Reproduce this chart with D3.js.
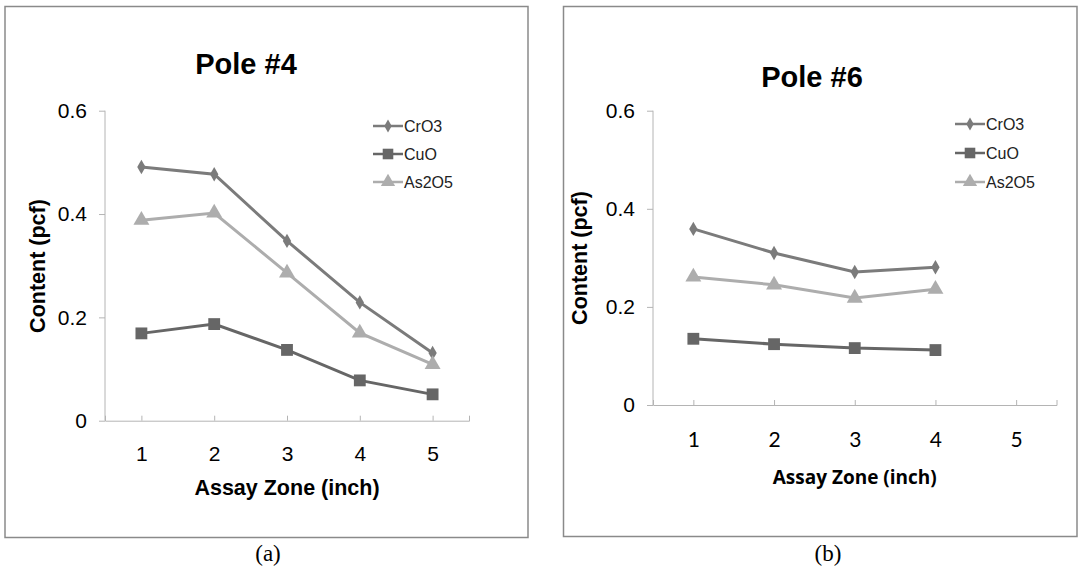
<!DOCTYPE html>
<html>
<head>
<meta charset="utf-8">
<script src="https://cdn.jsdelivr.net/npm/d3@7"></script>
<style>
  body { margin: 0; background: #fff; }
  svg { display: block; }
  .axis path, .axis line { stroke: #b4b4b4; stroke-width: 1px; }
</style>
</head>
<body>
<div id="chart"></div>
<script>
// data
const zones = ["1", "2", "3", "4", "5"];
const seriesNames = ["CrO3", "CuO", "As2O5"];
const yTicks = [0, 0.2, 0.4, 0.6];

const pole4CrO3 = [0.491, 0.477, 0.348, 0.229, 0.131];
const pole4CuO = [0.169, 0.187, 0.137, 0.078, 0.051];
const pole4As2O5 = [0.388, 0.402, 0.286, 0.170, 0.109];

const pole6CrO3 = [0.359, 0.310, 0.271, 0.281];
const pole6CuO = [0.135, 0.124, 0.116, 0.112];
const pole6As2O5 = [0.261, 0.245, 0.218, 0.236];

const colors = {CrO3: "#7b7b7b", CuO: "#666666", As2O5: "#adadad"};

const svg = d3.select("#chart").append("svg")
    .attr("width", 1078)
    .attr("height", 572);

function drawPanel(p) {
    const g = svg.append("g");

    // frame
    g.append("rect")
        .attr("x", p.frame[0]).attr("y", p.frame[1])
        .attr("width", p.frame[2] - p.frame[0]).attr("height", p.frame[3] - p.frame[1])
        .attr("fill", "none").attr("stroke", "#8a8a8a").attr("stroke-width", 1.5);

    const x = d3.scalePoint().domain(zones).range([p.left, p.right]).padding(0.5);
    const y = d3.scaleLinear().domain([0, 0.6]).range([p.bottom, p.top]);

    // axes
    const xAxis = g.append("g").attr("class", "axis")
        .attr("transform", `translate(0,${p.bottom})`)
        .call(d3.axisBottom(x).tickSizeInner(-5).tickSizeOuter(-5).tickPadding(p.xPad));
    xAxis.selectAll("text")
        .attr("fill", "#000")
        .style("font-family", p.xFont)
        .style("font-size", p.xFontSize + "px");

    const yAxis = g.append("g").attr("class", "axis")
        .attr("transform", `translate(${p.left},0)`)
        .call(d3.axisLeft(y).tickValues(yTicks).tickSizeOuter(0).tickSize(6).tickPadding(p.yPad)
            .tickFormat(d => d === 0 ? "0" : d3.format(".1f")(d)));
    yAxis.selectAll("text")
        .attr("fill", "#000")
        .style("font-family", "Arial, 'Liberation Sans', sans-serif")
        .style("font-size", "21px");
    yAxis.select(".domain").attr("d", `M0,${p.top}V${p.bottom}`);

    // title
    g.append("text")
        .attr("x", p.titleX).attr("y", p.titleY)
        .attr("text-anchor", "middle")
        .style("font-family", "Arial, 'Liberation Sans', sans-serif")
        .style("font-weight", "bold")
        .style("font-size", "29px")
        .text(p.title);

    // axis titles
    g.append("text")
        .attr("x", (p.left + p.right) / 2).attr("y", p.xTitleY)
        .attr("text-anchor", "middle")
        .style("font-family", p.xTitleFont)
        .style("font-weight", "bold")
        .style("font-size", p.xTitleSize + "px")
        .text("Assay Zone (inch)");

    g.append("text")
        .attr("transform", `translate(${p.yTitleX},${p.yTitleY}) rotate(-90)`)
        .attr("text-anchor", "middle")
        .style("font-family", "Arial, 'Liberation Sans', sans-serif")
        .style("font-weight", "bold")
        .style("font-size", "21.5px")
        .text("Content (pcf)");

    // lines + markers
    const line = d3.line().x((d, i) => x(zones[i])).y(d => y(d));
    p.series.forEach((vals, k) => {
        const name = seriesNames[k];
        g.append("path")
            .datum(vals)
            .attr("d", line)
            .attr("fill", "none")
            .attr("stroke", colors[name])
            .attr("stroke-width", 3);
        g.selectAll(".m" + k)
            .data(vals)
            .enter().append("path")
            .attr("transform", (d, i) => `translate(${x(zones[i])},${y(d)})`)
            .attr("d", marker(name, 1))
            .attr("fill", colors[name]);
    });

    // legend
    seriesNames.forEach((name, k) => {
        const ly = p.legY + k * p.legStep;
        g.append("line")
            .attr("x1", p.legX).attr("x2", p.legX + 30)
            .attr("y1", ly).attr("y2", ly)
            .attr("stroke", colors[name]).attr("stroke-width", 2.5);
        g.append("path")
            .attr("transform", `translate(${p.legX + 15},${ly})`)
            .attr("d", marker(name, 0.8))
            .attr("fill", colors[name]);
        g.append("text")
            .attr("x", p.legX + 31).attr("y", ly)
            .attr("dy", "0.36em")
            .style("font-family", "Arial, 'Liberation Sans', sans-serif")
            .style("font-size", "16px")
            .attr("fill", "#222")
            .text(name);
    });

    // panel caption
    svg.append("text")
        .attr("x", p.capX).attr("y", 561)
        .attr("text-anchor", "middle")
        .style("font-family", "'Liberation Serif', 'Times New Roman', serif")
        .style("font-size", "23px")
        .text(p.caption);
}

function marker(name, s) {
    if (name === "CrO3") return d3.symbol(d3.symbolDiamond, 60 * s)();
    if (name === "CuO") return d3.symbol(d3.symbolSquare, 140 * s)();
    return d3.symbol(d3.symbolTriangle, 110 * s)();
}

drawPanel({
    frame: [5, 6.5, 528, 537.5],
    left: 105, right: 469, top: 110.7, bottom: 420.7,
    xPad: 25, xFont: "Arial, 'Liberation Sans', sans-serif", xFontSize: 21,
    yPad: 12,
    title: "Pole #4", titleX: 246, titleY: 74,
    xTitleY: 495, xTitleFont: "Arial, 'Liberation Sans', sans-serif", xTitleSize: 21.5,
    yTitleX: 45, yTitleY: 266,
    legX: 373, legY: 126, legStep: 28,
    series: [pole4CrO3, pole4CuO, pole4As2O5],
    caption: "(a)", capX: 268
});

drawPanel({
    frame: [563.5, 6.5, 1077, 536.5],
    left: 653, right: 1056.5, top: 110.7, bottom: 405,
    xPad: 27, xFont: "Lato, 'Open Sans', sans-serif", xFontSize: 21,
    yPad: 12,
    title: "Pole #6", titleX: 812, titleY: 87,
    xTitleY: 484, xTitleFont: "'Open Sans', sans-serif", xTitleSize: 19,
    yTitleX: 587, yTitleY: 258,
    legX: 955, legY: 124, legStep: 29,
    series: [pole6CrO3, pole6CuO, pole6As2O5],
    caption: "(b)", capX: 828
});
</script>
</body>
</html>
